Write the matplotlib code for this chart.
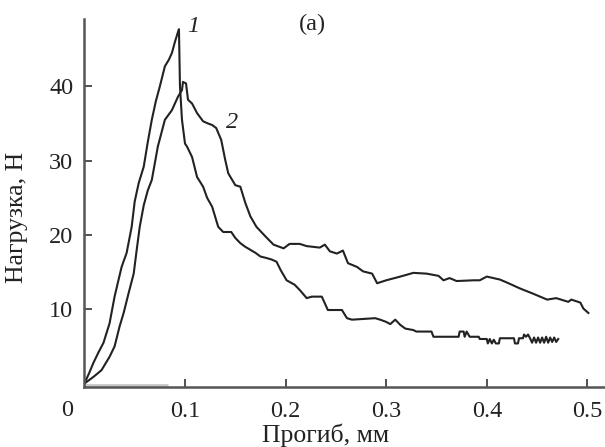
import matplotlib
matplotlib.use("Agg")
import matplotlib.pyplot as plt

plt.rcParams['font.family'] = ['Liberation Serif', 'DejaVu Serif']

# Curve 1
x1 = [0.0, 0.005, 0.009, 0.014, 0.019, 0.022, 0.025, 0.030, 0.034, 0.037, 0.042, 0.047, 0.050, 0.054,
      0.059, 0.063, 0.067, 0.071, 0.075, 0.080, 0.084, 0.087, 0.090, 0.093, 0.094, 0.095, 0.097, 0.100,
      0.102, 0.107, 0.112, 0.118, 0.122, 0.127, 0.133, 0.138, 0.146, 0.150, 0.155, 0.160, 0.165, 0.170,
      0.175, 0.181, 0.186, 0.191, 0.195, 0.201, 0.209, 0.214, 0.221, 0.226, 0.236, 0.239, 0.242, 0.256,
      0.261, 0.266, 0.289, 0.294, 0.300, 0.304, 0.309, 0.314, 0.319, 0.327, 0.330, 0.345, 0.347, 0.372,
      0.373, 0.377, 0.378, 0.380, 0.383, 0.392, 0.393, 0.400, 0.401, 0.403, 0.405, 0.407, 0.409, 0.412,
      0.413, 0.427, 0.428, 0.431, 0.432, 0.436, 0.437, 0.439, 0.441, 0.443, 0.445, 0.447, 0.449, 0.451,
      0.453, 0.455, 0.457, 0.459, 0.461, 0.463, 0.465, 0.467, 0.469, 0.471]
y1 = [0.0, 1.5, 2.8, 4.2, 5.5, 6.8, 8.1, 11.7, 14.0, 15.7, 17.6, 21.1, 24.5, 27.0,
      29.2, 32.5, 35.5, 38.0, 40.0, 42.7, 43.6, 44.5, 46.0, 47.3, 47.7, 40.0, 35.5, 32.3,
      31.9, 30.5, 27.8, 26.5, 25.0, 23.8, 21.1, 20.4, 20.4, 19.6, 18.9, 18.4, 18.0, 17.6,
      17.1, 16.9, 16.7, 16.4, 15.3, 13.9, 13.3, 12.6, 11.5, 11.7, 11.7, 10.8, 9.9, 9.9,
      8.8, 8.6, 8.8, 8.6, 8.3, 8.0, 8.6, 7.9, 7.4, 7.2, 7.0, 7.0, 6.3, 6.3,
      7.0, 7.0, 6.3, 7.0, 6.3, 6.3, 6.0, 6.0, 5.4, 6.0, 5.4, 5.9, 5.4, 5.4,
      6.1, 6.1, 5.4, 5.4, 6.1, 6.1, 6.6, 6.3, 6.6, 6.1, 5.5, 6.2, 5.5, 6.2,
      5.5, 6.2, 5.5, 6.3, 5.5, 6.2, 5.6, 6.2, 5.6, 6.0]

# Curve 2
x2 = [0.0, 0.009, 0.017, 0.025, 0.030, 0.035, 0.039, 0.044, 0.049, 0.052, 0.055, 0.059, 0.063, 0.067,
      0.073, 0.080, 0.087, 0.093, 0.097, 0.098, 0.101, 0.103, 0.107, 0.112, 0.118, 0.123, 0.127, 0.131,
      0.136, 0.140, 0.143, 0.150, 0.155, 0.160, 0.165, 0.171, 0.180, 0.188, 0.198, 0.204, 0.214, 0.221,
      0.234, 0.239, 0.244, 0.251, 0.257, 0.262, 0.271, 0.277, 0.286, 0.291, 0.300, 0.314, 0.327, 0.340,
      0.352, 0.357, 0.363, 0.370, 0.387, 0.393, 0.400, 0.413, 0.420, 0.433, 0.446, 0.460, 0.469, 0.481,
      0.484, 0.493, 0.496, 0.501]
y2 = [0.0, 0.9, 1.8, 3.6, 5.0, 7.7, 9.5, 12.2, 14.8, 18.0, 21.1, 24.0, 26.0, 27.4,
      31.9, 35.5, 36.8, 38.6, 39.5, 40.6, 40.4, 38.2, 37.7, 36.4, 35.3, 35.0, 34.8, 34.4,
      32.8, 30.1, 28.3, 26.7, 26.5, 24.3, 22.5, 21.1, 19.8, 18.7, 18.2, 18.8, 18.8, 18.5,
      18.3, 18.7, 17.8, 17.5, 17.9, 16.2, 15.7, 15.1, 14.8, 13.5, 13.9, 14.4, 14.9, 14.8,
      14.5, 13.9, 14.2, 13.8, 13.9, 13.9, 14.4, 14.0, 13.6, 12.8, 12.1, 11.3, 11.5, 11.0,
      11.3, 10.9, 10.1, 9.5]

# faint baseline trace
x0 = [0.0, 0.083]
y0 = [-0.2, -0.2]

xticks = [0.1, 0.2, 0.3, 0.4, 0.5]
xticklabels = ["0.1", "0.2", "0.3", "0.4", "0.5"]
yticks = [10, 20, 30, 40]
yticklabels = ["10", "20", "30", "40"]

FS = 17.5
LFS = 18.5

fig = plt.figure(figsize=(6.05, 4.47), dpi=100)
ax = fig.add_axes([0.1395, 0.1336, 0.8605, 0.8239])

ax.plot(x0, y0, color="#c8c8c8", lw=2.0, solid_capstyle="butt")
ax.plot(x1, y1, color="#222222", lw=1.5)
ax.plot(x2, y2, color="#222222", lw=1.5)

ax.set_xlim(0, 0.5175)
ax.set_ylim(-0.5, 49.07)

for s in ["top", "right"]:
    ax.spines[s].set_visible(False)
for s in ["left", "bottom"]:
    ax.spines[s].set_color("#555555")
    ax.spines[s].set_linewidth(1.8)

ax.set_xticks(xticks)
ax.set_xticklabels(xticklabels)
ax.set_yticks(yticks)
ax.set_yticklabels(yticklabels)
ax.tick_params(direction="in", length=6, width=1.2, color="#333333", labelsize=FS,
               labelcolor="#222222")
ax.tick_params(axis="x", pad=10)
ax.tick_params(axis="y", pad=8)

ax.text(-0.017, -2.2, "0", transform=ax.transData, ha="center", va="top",
        fontsize=FS, color="#222222", clip_on=False)

ax.set_xlabel("Прогиб, мм", fontsize=LFS, color="#222222")
ax.xaxis.set_label_coords(0.463, -0.098, transform=ax.transAxes)
ax.set_ylabel("Нагрузка, Н", fontsize=LFS, color="#222222")
ax.yaxis.set_label_coords(-0.108, 0.462)

ax.text(0.108, 48.0, "1", fontsize=FS, style="italic", ha="center", va="center", color="#222222")
ax.text(0.147, 35.2, "2", fontsize=FS, style="italic", ha="center", va="center", color="#222222")
ax.text(0.227, 48.3, "(a)", fontsize=FS, ha="center", va="center", color="#222222")

fig.savefig("out.png", dpi=100)
